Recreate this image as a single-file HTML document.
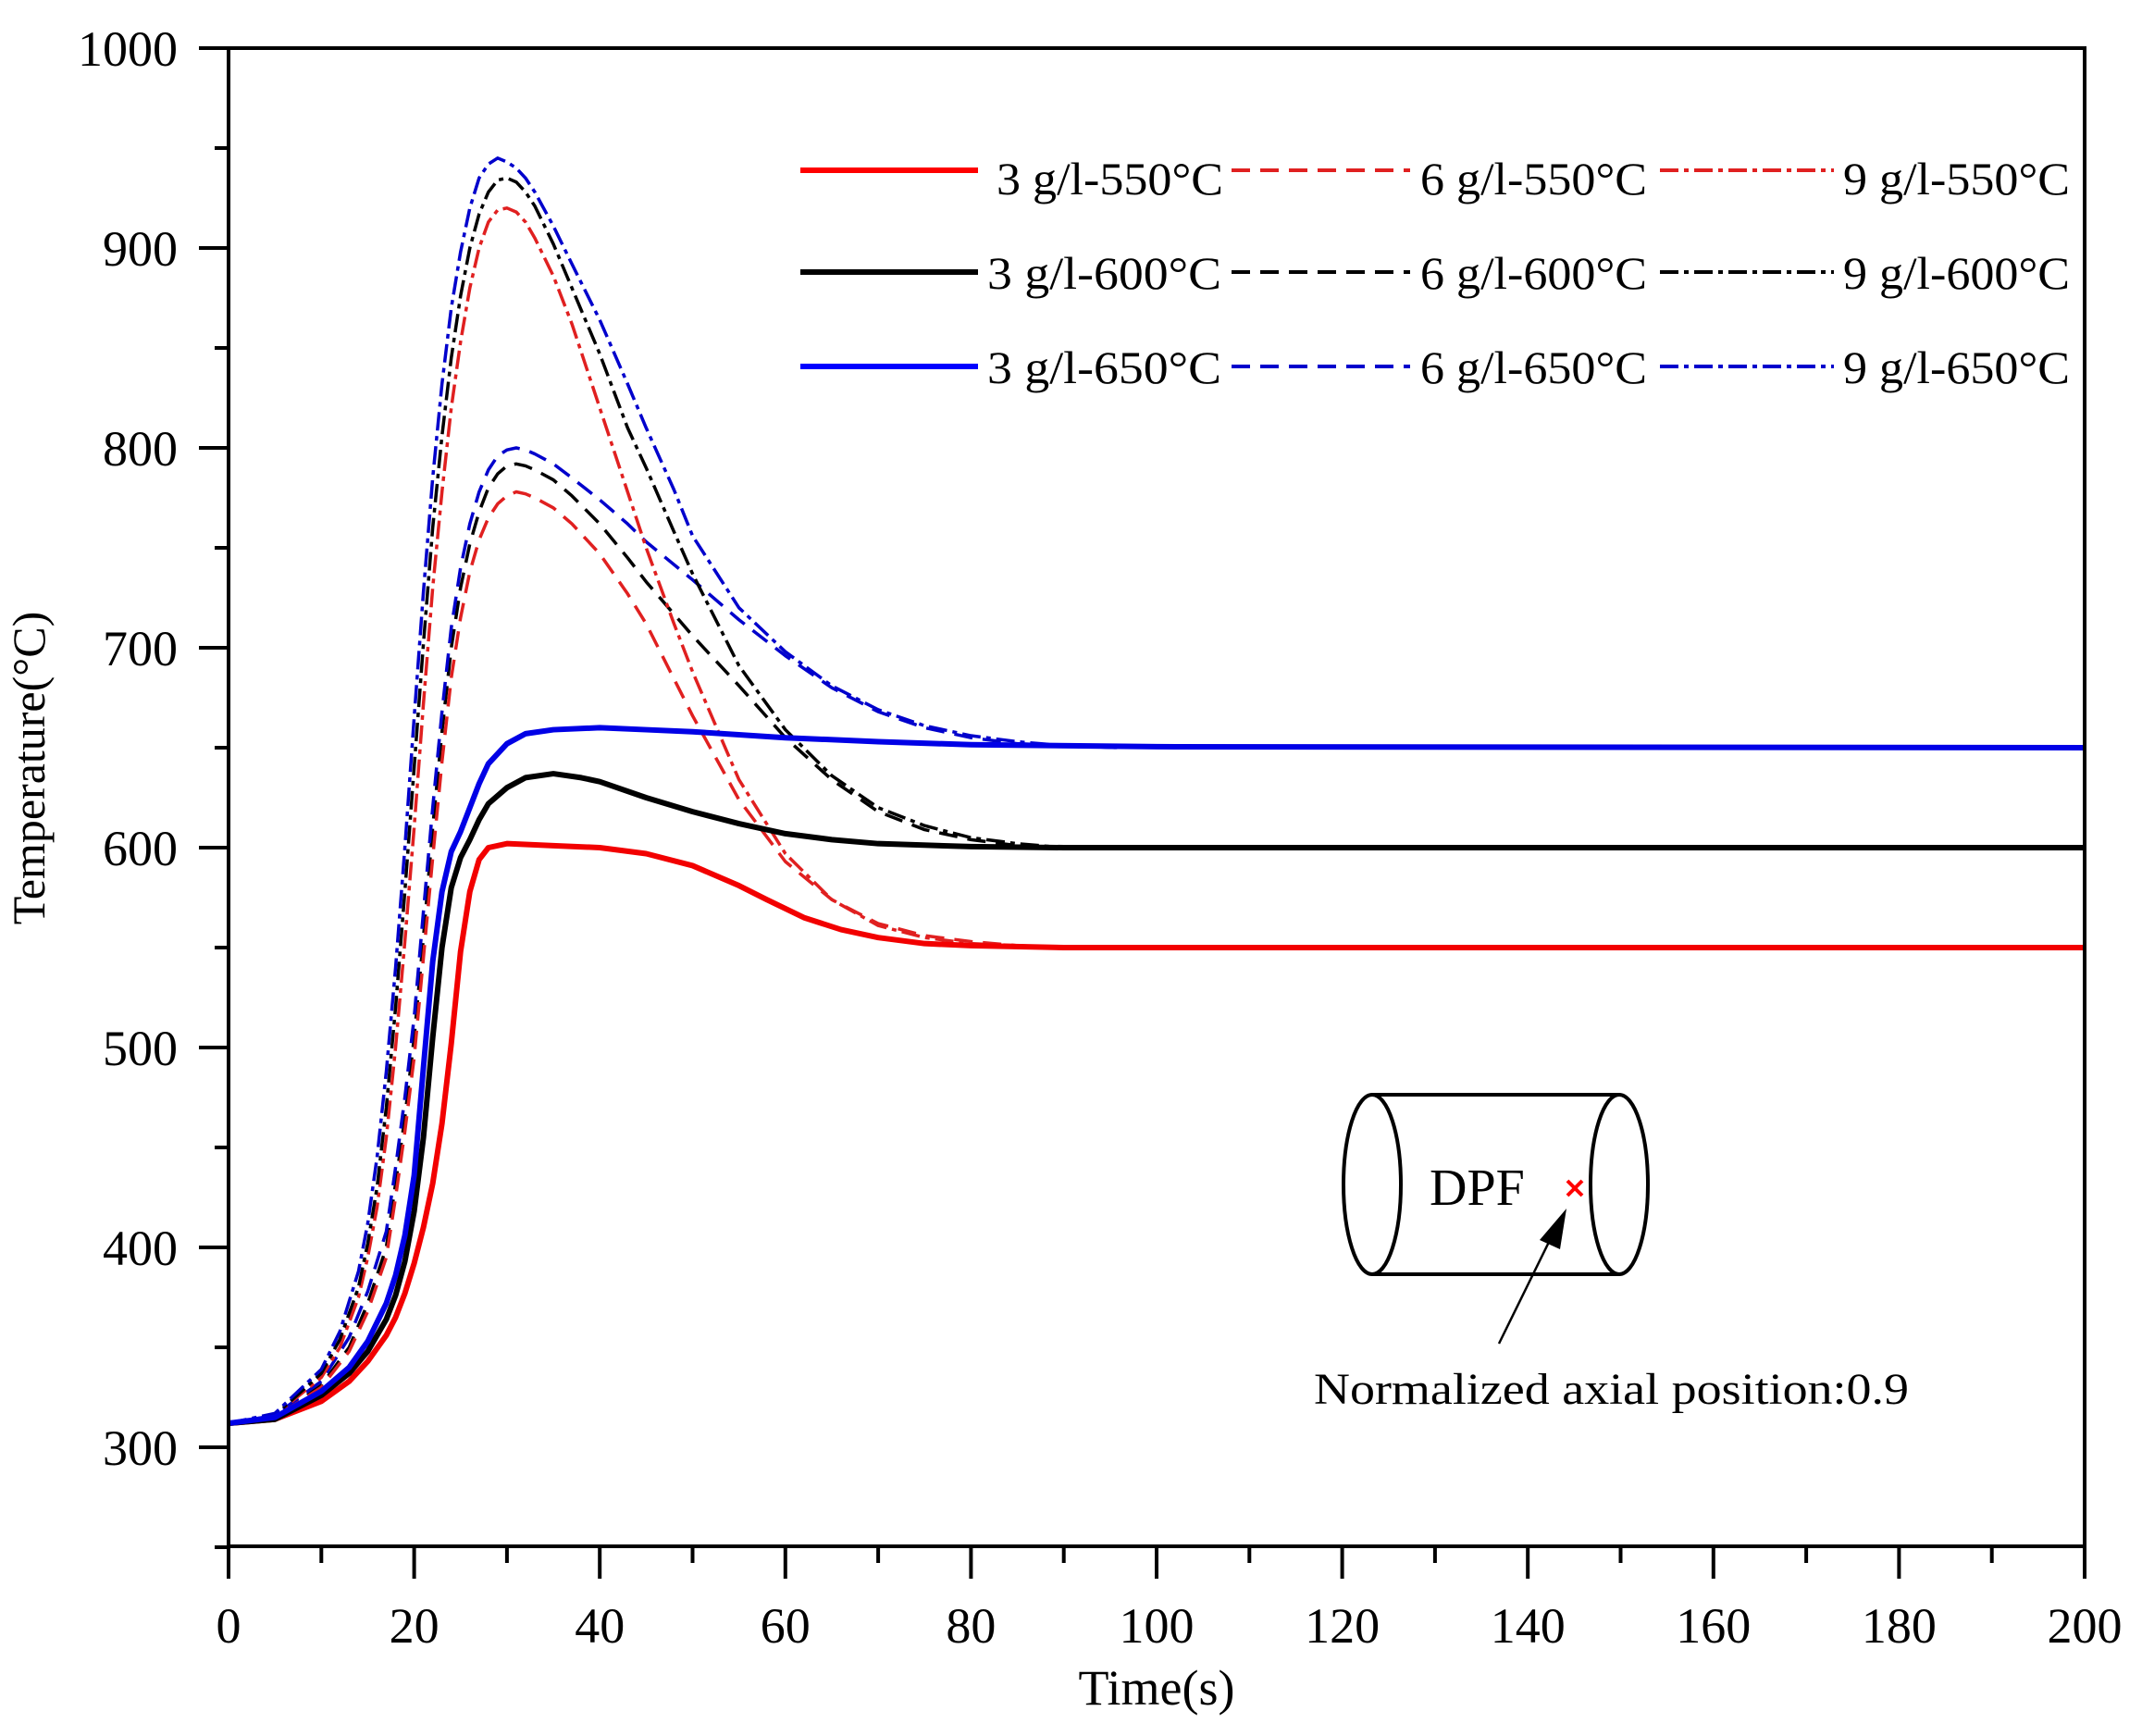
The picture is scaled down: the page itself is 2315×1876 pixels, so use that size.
<!DOCTYPE html>
<html><head><meta charset="utf-8"><style>
html,body{margin:0;padding:0;background:#fff;}
svg{display:block;font-family:"Liberation Serif",serif;}
</style></head><body>
<svg width="2315" height="1876" viewBox="0 0 2315 1876" xmlns="http://www.w3.org/2000/svg">
<rect width="2315" height="1876" fill="#fff"/>
<g transform="matrix(10.03 0 0 -2.16 247 2212)" fill="none" stroke-linejoin="round">
<polyline vector-effect="non-scaling-stroke" stroke="#000" stroke-width="3.5" stroke-dasharray="20,11" points="0,312 5,315 10,331 13,350 15,372 17,400 18,432 19,465 20,505 21,555 22,610 23,658 24,700 25,730 26,752 27,768 28,780 29,787 30,791 31,792 32,791 33,789 35,784 37,776 40,762 43,745 45,733 50,706 55,681 60,655 65,634 70,618 75,609 80,604 85,601 90,600 96,600"/>
<polyline vector-effect="non-scaling-stroke" stroke="#0000cc" stroke-width="3.5" stroke-dasharray="20,11" points="0,312 5,316 10,333 13,355 15,378 17,408 18,440 19,475 20,515 21,568 22,620 23,668 24,710 25,740 26,762 27,778 28,789 29,796 30,799 31,800 32,799 33,797 35,792 37,785 40,774 43,762 45,753 50,734 55,714 60,696 65,680 70,668 75,660 80,655 85,652 90,651 96,650"/>
<polyline vector-effect="non-scaling-stroke" stroke="#e02020" stroke-width="3.5" stroke-dasharray="20,11" points="0,312 5,315 10,330 13,348 15,368 17,395 18,425 19,458 20,495 21,545 22,595 23,643 24,685 25,715 26,738 27,754 28,765 29,772 30,776 31,778 32,777 33,775 35,770 37,762 40,747 43,727 45,712 50,666 55,624 60,593 65,574 70,562 75,556 80,553 85,551 90,550 96,550"/>
<polyline vector-effect="non-scaling-stroke" stroke="#e02020" stroke-width="3.5" stroke-dasharray="20,6,5,6" points="0,312 5,316 10,335 12,350 14,375 15,395 16,420 17,455 18,500 19,553 20,610 21,672 22,730 23,778 24,820 25,853 26,880 27,900 28,913 29,919 30,920 31,918 32,913 33,905 35,886 37,862 40,820 43,778 45,750 48,712 50,688 55,634 60,597 65,574 70,561 75,555 80,552 85,551 90,550 96,550"/>
<polyline vector-effect="non-scaling-stroke" stroke="#000" stroke-width="3.5" stroke-dasharray="20,6,5,6" points="0,312 5,316 10,337 12,354 14,380 15,402 16,430 17,470 18,520 19,578 20,640 21,702 22,760 23,806 24,845 25,876 26,900 27,917 28,928 29,934 30,935 31,933 32,928 33,921 35,902 37,880 40,847 43,810 45,790 48,758 50,737 55,691 60,659 65,636 70,620 75,611 80,605 85,602 90,600 96,600"/>
<polyline vector-effect="non-scaling-stroke" stroke="#0000cc" stroke-width="3.5" stroke-dasharray="20,6,5,6" points="0,312 5,317 10,339 12,358 14,388 15,412 16,445 17,488 18,540 19,600 20,665 21,728 22,785 23,832 24,870 25,898 26,920 27,935 28,942 29,945 30,943 31,940 32,935 33,928 35,911 37,892 40,864 43,832 45,810 48,779 50,756 55,720 60,698 65,681 70,669 75,661 80,656 85,653 90,651 96,650"/>
<polyline vector-effect="non-scaling-stroke" stroke="#f20000" stroke-width="6" points="0,312 5,314 10,323 13,333 15,343 17,356 18,365 19,377 20,392 21,410 22,432 23,462 24,502 25,548 26,578 27,594 28,600 30,602 35,601 40,600 45,597 50,591 55,581 58,574 62,565 66,559 70,555 75,552 80,551 90,550 200,550"/>
<polyline vector-effect="non-scaling-stroke" stroke="#000" stroke-width="6" points="0,312 5,314 10,326 13,337 15,348 17,364 18,376 19,393 20,418 21,455 22,505 23,550 24,580 25,595 26,604 27,614 28,622 30,630 32,635 35,637 38,635 40,633 45,625 50,618 55,612 60,607 65,604 70,602 80,600.5 90,600 200,600"/>
<polyline vector-effect="non-scaling-stroke" stroke="#0000e6" stroke-width="6" points="0,312 5,315 10,328 13,340 15,353 17,372 18,386 19,406 20,436 21,490 22,543 23,578 24,598 25,608 26,620 27,632 28,642 30,652 32,657 35,659 40,660 45,659 50,658 60,655 70,653 80,651.5 100,650.5 200,650"/>
</g>
<g stroke="#000" stroke-width="4" fill="none">
<rect x="247" y="52" width="2006" height="1619"/>
</g>
<g stroke="#000" stroke-width="4">
<line x1="232" y1="1672" x2="247" y2="1672"/><line x1="215" y1="1564" x2="247" y2="1564"/>
<line x1="232" y1="1456" x2="247" y2="1456"/><line x1="215" y1="1348" x2="247" y2="1348"/>
<line x1="232" y1="1240" x2="247" y2="1240"/><line x1="215" y1="1132" x2="247" y2="1132"/>
<line x1="232" y1="1024" x2="247" y2="1024"/><line x1="215" y1="916" x2="247" y2="916"/>
<line x1="232" y1="808" x2="247" y2="808"/><line x1="215" y1="700" x2="247" y2="700"/>
<line x1="232" y1="592" x2="247" y2="592"/><line x1="215" y1="484" x2="247" y2="484"/>
<line x1="232" y1="376" x2="247" y2="376"/><line x1="215" y1="268" x2="247" y2="268"/>
<line x1="232" y1="160" x2="247" y2="160"/><line x1="215" y1="52" x2="247" y2="52"/>
<line x1="247" y1="1671" x2="247" y2="1706"/><line x1="347.3" y1="1671" x2="347.3" y2="1689"/>
<line x1="447.6" y1="1671" x2="447.6" y2="1706"/><line x1="547.9" y1="1671" x2="547.9" y2="1689"/>
<line x1="648.2" y1="1671" x2="648.2" y2="1706"/><line x1="748.5" y1="1671" x2="748.5" y2="1689"/>
<line x1="848.8" y1="1671" x2="848.8" y2="1706"/><line x1="949.1" y1="1671" x2="949.1" y2="1689"/>
<line x1="1049.4" y1="1671" x2="1049.4" y2="1706"/><line x1="1149.7" y1="1671" x2="1149.7" y2="1689"/>
<line x1="1250" y1="1671" x2="1250" y2="1706"/><line x1="1350.3" y1="1671" x2="1350.3" y2="1689"/>
<line x1="1450.6" y1="1671" x2="1450.6" y2="1706"/><line x1="1550.9" y1="1671" x2="1550.9" y2="1689"/>
<line x1="1651.2" y1="1671" x2="1651.2" y2="1706"/><line x1="1751.5" y1="1671" x2="1751.5" y2="1689"/>
<line x1="1851.8" y1="1671" x2="1851.8" y2="1706"/><line x1="1952.1" y1="1671" x2="1952.1" y2="1689"/>
<line x1="2052.4" y1="1671" x2="2052.4" y2="1706"/><line x1="2152.7" y1="1671" x2="2152.7" y2="1689"/>
<line x1="2253" y1="1671" x2="2253" y2="1706"/>
</g>
<g font-size="54" fill="#000" text-anchor="end">
<text x="192" y="1583">300</text><text x="192" y="1367">400</text><text x="192" y="1151">500</text>
<text x="192" y="935">600</text><text x="192" y="719">700</text><text x="192" y="503">800</text>
<text x="192" y="287">900</text><text x="192" y="71">1000</text>
</g>
<g font-size="54" fill="#000" text-anchor="middle">
<text x="247" y="1775">0</text><text x="447.6" y="1775">20</text><text x="648.2" y="1775">40</text>
<text x="848.8" y="1775">60</text><text x="1049.4" y="1775">80</text><text x="1250" y="1775">100</text>
<text x="1450.6" y="1775">120</text><text x="1651.2" y="1775">140</text><text x="1851.8" y="1775">160</text>
<text x="2052.4" y="1775">180</text><text x="2253" y="1775">200</text>
</g>
<text x="1250" y="1842" font-size="54" text-anchor="middle">Time(s)</text>
<text transform="translate(48,830) rotate(-90)" font-size="50" text-anchor="middle">Temperature(°C)</text>
<g>
<line x1="865" y1="184" x2="1057" y2="184" stroke="#f00" stroke-width="6"/>
<line x1="1331" y1="184" x2="1524" y2="184" stroke="#e02020" stroke-width="4" stroke-dasharray="20,11"/>
<line x1="1794" y1="184" x2="1982" y2="184" stroke="#e02020" stroke-width="4" stroke-dasharray="20,6,5,6"/>
<line x1="865" y1="294" x2="1057" y2="294" stroke="#000" stroke-width="6"/>
<line x1="1331" y1="294" x2="1524" y2="294" stroke="#000" stroke-width="4" stroke-dasharray="20,11"/>
<line x1="1794" y1="294" x2="1982" y2="294" stroke="#000" stroke-width="4" stroke-dasharray="20,6,5,6"/>
<line x1="865" y1="396" x2="1057" y2="396" stroke="#00f" stroke-width="6"/>
<line x1="1331" y1="396" x2="1524" y2="396" stroke="#00c" stroke-width="4" stroke-dasharray="20,11"/>
<line x1="1794" y1="396" x2="1982" y2="396" stroke="#00c" stroke-width="4" stroke-dasharray="20,6,5,6"/>
</g>
<g font-size="50" fill="#000">
<text x="1077" y="210" textLength="245" lengthAdjust="spacingAndGlyphs">3 g/l-550°C</text>
<text x="1535" y="210" textLength="245" lengthAdjust="spacingAndGlyphs">6 g/l-550°C</text>
<text x="1992" y="210" textLength="245" lengthAdjust="spacingAndGlyphs">9 g/l-550°C</text>
<text x="1067" y="312" textLength="253" lengthAdjust="spacingAndGlyphs">3 g/l-600°C</text>
<text x="1535" y="312" textLength="245" lengthAdjust="spacingAndGlyphs">6 g/l-600°C</text>
<text x="1992" y="312" textLength="245" lengthAdjust="spacingAndGlyphs">9 g/l-600°C</text>
<text x="1067" y="414" textLength="253" lengthAdjust="spacingAndGlyphs">3 g/l-650°C</text>
<text x="1535" y="414" textLength="245" lengthAdjust="spacingAndGlyphs">6 g/l-650°C</text>
<text x="1992" y="414" textLength="245" lengthAdjust="spacingAndGlyphs">9 g/l-650°C</text>
</g>
<g stroke="#000" stroke-width="4" fill="none">
<line x1="1483" y1="1183" x2="1750" y2="1183"/>
<line x1="1483" y1="1377" x2="1750" y2="1377"/>
<ellipse cx="1483" cy="1280" rx="31" ry="97"/>
<ellipse cx="1750" cy="1280" rx="31" ry="97"/>
</g>
<text x="1545" y="1302" font-size="56">DPF</text>
<g stroke="#f00" stroke-width="4"><line x1="1694" y1="1276" x2="1710" y2="1292"/><line x1="1710" y1="1276" x2="1694" y2="1292"/></g>
<line x1="1620" y1="1452" x2="1680" y2="1330" stroke="#000" stroke-width="2.5"/>
<polygon points="1693,1306 1664,1340 1686,1350" fill="#000"/>
<text x="1420" y="1517" font-size="48" textLength="643" lengthAdjust="spacingAndGlyphs">Normalized axial position:0.9</text>
</svg>
</body></html>
